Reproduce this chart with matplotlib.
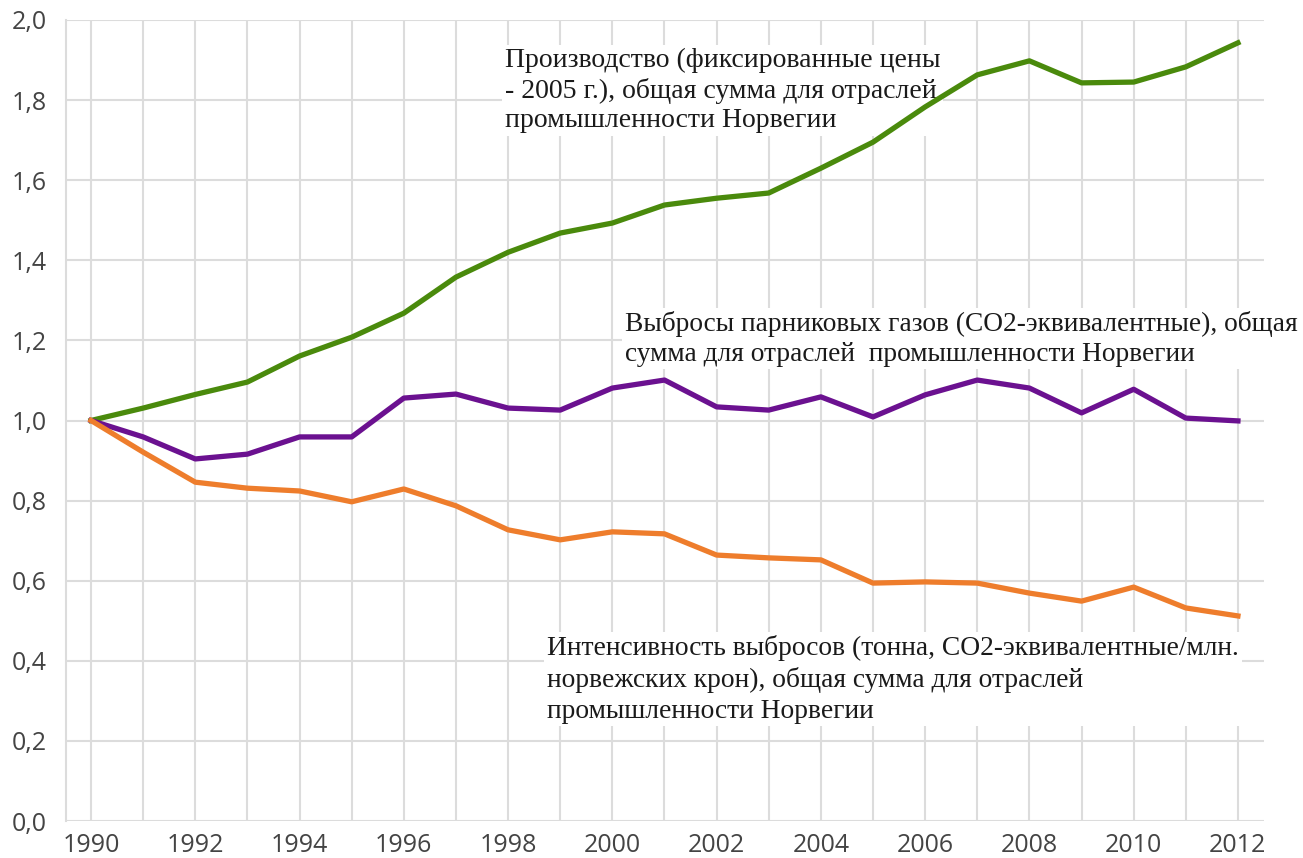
import matplotlib.pyplot as plt
from matplotlib.ticker import FuncFormatter

years = list(range(1990, 2013))

production = [1.000, 1.031, 1.065, 1.096, 1.161, 1.208, 1.268, 1.358, 1.420, 1.468,
              1.493, 1.538, 1.555, 1.568, 1.630, 1.695, 1.783, 1.863, 1.898, 1.843,
              1.845, 1.883, 1.943]
emissions = [1.000, 0.959, 0.904, 0.916, 0.959, 0.959, 1.056, 1.066, 1.031, 1.026,
             1.081, 1.101, 1.034, 1.026, 1.059, 1.009, 1.064, 1.101, 1.081, 1.019,
             1.078, 1.006, 0.999]
intensity = [1.000, 0.921, 0.846, 0.831, 0.824, 0.797, 0.829, 0.787, 0.727, 0.702,
             0.722, 0.717, 0.664, 0.657, 0.652, 0.594, 0.597, 0.594, 0.569, 0.549,
             0.584, 0.532, 0.512]

label_production = "Производство (фиксированные цены\n- 2005 г.), общая сумма для отраслей\nпромышленности Норвегии"
label_emissions = "Выбросы парниковых газов (CO2-эквивалентные), общая\nсумма для отраслей  промышленности Норвегии"
label_intensity = "Интенсивность выбросов (тонна, CO2-эквивалентные/млн.\nнорвежских крон), общая сумма для отраслей\nпромышленности Норвегии"

grid_color = "#dcdcdc"

fig = plt.figure(figsize=(13.03, 8.58), dpi=100)
ax = fig.add_axes([66 / 1303, 1 - 821 / 858, (1264 - 66) / 1303, (821 - 20) / 858])

ax.plot(years, production, color="#4a8a0c", lw=3.8, solid_joinstyle="round", zorder=3)
ax.plot(years, emissions, color="#6b1190", lw=3.8, solid_joinstyle="round", zorder=3)
ax.plot(years, intensity, color="#ee7d2c", lw=3.8, solid_joinstyle="round", zorder=3)

ax.set_xlim(1989.52, 2012.5)
ax.set_ylim(0, 2.0)
ax.set_xticks(range(1990, 2013, 2))
ax.set_xticks(range(1990, 2013), minor=True)
ax.set_yticks([i * 0.2 for i in range(11)])
ax.yaxis.set_major_formatter(FuncFormatter(lambda v, p: f"{v:.1f}".replace(".", ",")))

ax.grid(True, which="both", axis="x", color=grid_color, lw=1.5, zorder=0)
ax.grid(True, which="major", axis="y", color=grid_color, lw=1.5, zorder=0)
ax.tick_params(which="both", length=0)
ax.tick_params(axis="y", pad=14, labelsize=18, labelcolor="#444444")
ax.tick_params(axis="x", pad=9, labelsize=18, labelcolor="#444444")
for lab in ax.get_xticklabels() + ax.get_yticklabels():
    lab.set_fontfamily("Open Sans")

for side in ["top", "right", "bottom"]:
    ax.spines[side].set_visible(False)
ax.spines["left"].set_color(grid_color)
ax.spines["left"].set_linewidth(1.5)

# labels sit under the lines but over the grid
text_style = dict(family="Liberation Serif", color="#1a1a1a", va="top", ha="left",
                  zorder=2.5, transform=fig.transFigure, clip_on=False,
                  bbox=dict(facecolor="white", edgecolor="none", pad=2))
ax.text(505 / 1303, 1 - 48 / 858, label_production, fontsize=20, linespacing=1.22, **text_style)
ax.text(625 / 1303, 1 - 311 / 858, label_emissions, fontsize=19.7, linespacing=1.24, **text_style)
ax.text(547 / 1303, 1 - 635 / 858, label_intensity, fontsize=19.8, linespacing=1.3, **text_style)

fig.savefig("out.png", dpi=100)
